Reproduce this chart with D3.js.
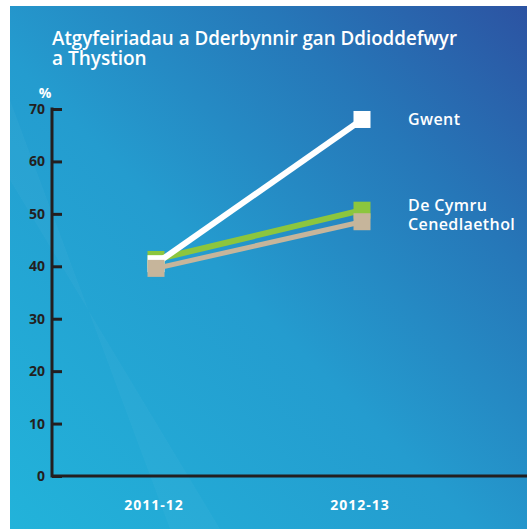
<!DOCTYPE html>
<html>
<head>
<meta charset="utf-8">
<script src="https://cdn.jsdelivr.net/npm/d3@7"></script>
<style>
  body { margin: 0; background: #fff; }
  svg { display: block; }
  text { font-family: "Open Sans", sans-serif; }
</style>
</head>
<body>
<div id="chart"></div>
<script>
var width = 527, height = 529;

// data
var years = ["2011-12", "2012-13"];
var deCymru = [41.3, 50.7];
var gwent = [40.5, 68];
var cenedlaethol = [39.6, 48.5];
var yTicks = [0, 10, 20, 30, 40, 50, 60, 70];
var colours = { "De Cymru": "#8cc63e", "Gwent": "#ffffff", "Cenedlaethol": "#c6b59b" };

var series = [
  { name: "De Cymru", values: deCymru, lw: 6 },
  { name: "Gwent", values: gwent, lw: 6 },
  { name: "Cenedlaethol", values: cenedlaethol, lw: 5 }
];

var svg = d3.select("#chart").append("svg")
  .attr("width", width)
  .attr("height", height);

// background gradient
var defs = svg.append("defs");
var grad = defs.append("linearGradient")
  .attr("id", "bg")
  .attr("x1", "0%").attr("y1", "100%")
  .attr("x2", "100%").attr("y2", "0%");
grad.append("stop").attr("offset", "0%").attr("stop-color", "#22b3da");
grad.append("stop").attr("offset", "45%").attr("stop-color", "#249ccf");
grad.append("stop").attr("offset", "75%").attr("stop-color", "#2677b8");
grad.append("stop").attr("offset", "100%").attr("stop-color", "#2c53a2");

svg.append("rect")
  .attr("x", 10).attr("y", 6)
  .attr("width", width - 10).attr("height", height - 6)
  .attr("fill", "url(#bg)");

// faint light band
svg.append("path")
  .attr("d", "M10,100 L10,180 L220,529 L170,529 Z")
  .attr("fill", "#ffffff").attr("opacity", 0.03);

// title
var title = svg.append("text")
  .attr("fill", "#fff")
  .attr("font-size", 19)
  .attr("font-weight", 600);
title.append("tspan").attr("x", 52).attr("y", 45)
  .attr("textLength", 405).attr("lengthAdjust", "spacingAndGlyphs")
  .text("Atgyfeiriadau a Dderbynnir gan Ddioddefwyr");
title.append("tspan").attr("x", 52).attr("y", 65).text("a Thystion");

var x = d3.scalePoint().domain(years).range([156, 362]);
var y = d3.scaleLinear().domain([0, 70]).range([476, 109]);

// y axis
var yAxis = svg.append("g")
  .attr("transform", "translate(52,0)")
  .call(d3.axisRight(y).tickValues(yTicks).tickSize(10).tickFormat(""));
yAxis.select(".domain").remove();
yAxis.selectAll("line").attr("stroke", "#231f20").attr("stroke-width", 3);

svg.append("line")
  .attr("x1", 52).attr("x2", 52)
  .attr("y1", y(70) - 1.5).attr("y2", y(0) + 1.5)
  .attr("stroke", "#231f20").attr("stroke-width", 3);
svg.append("line")
  .attr("x1", 52).attr("x2", width)
  .attr("y1", y(0)).attr("y2", y(0))
  .attr("stroke", "#231f20").attr("stroke-width", 3);

svg.selectAll(".ylab")
  .data(yTicks)
  .enter().append("text")
  .attr("class", "ylab")
  .attr("x", 45)
  .attr("y", d => y(d) + 5)
  .attr("text-anchor", "end")
  .attr("fill", "#231f20")
  .attr("font-size", 14)
  .attr("font-weight", 700)
  .text(d => d);

svg.append("text")
  .attr("x", 45).attr("y", 98)
  .attr("text-anchor", "middle")
  .attr("fill", "#fff")
  .attr("font-size", 14)
  .attr("font-weight", 700)
  .text("%");

// x labels
svg.selectAll(".xlab")
  .data(years)
  .enter().append("text")
  .attr("class", "xlab")
  .attr("x", d => x(d) - 2)
  .attr("y", 510)
  .attr("text-anchor", "middle")
  .attr("fill", "#fff")
  .attr("font-size", 14)
  .attr("letter-spacing", 1)
  .attr("font-weight", 700)
  .text(d => d);

// lines and markers
var line = d3.line()
  .x((d, i) => x(years[i]))
  .y(d => y(d));

var sq = 17;
series.forEach(function(s) {
  svg.append("path")
    .datum(s.values)
    .attr("d", line)
    .attr("fill", "none")
    .attr("stroke", colours[s.name])
    .attr("stroke-width", s.lw);
  svg.selectAll(null)
    .data(s.values)
    .enter().append("rect")
    .attr("x", (d, i) => x(years[i]) - sq / 2)
    .attr("y", d => y(d) - sq / 2)
    .attr("width", sq).attr("height", sq)
    .attr("fill", colours[s.name]);
});

// legend labels
var legend = [
  { text: "Gwent", y: 125 },
  { text: "De Cymru", y: 211 },
  { text: "Cenedlaethol", y: 230 }
];
svg.selectAll(".leg")
  .data(legend)
  .enter().append("text")
  .attr("class", "leg")
  .attr("x", 408)
  .attr("y", d => d.y)
  .attr("fill", "#fff")
  .attr("font-size", 16)
  .attr("letter-spacing", 0.4)
  .attr("font-weight", 600)
  .text(d => d.text);
</script>
</body>
</html>
